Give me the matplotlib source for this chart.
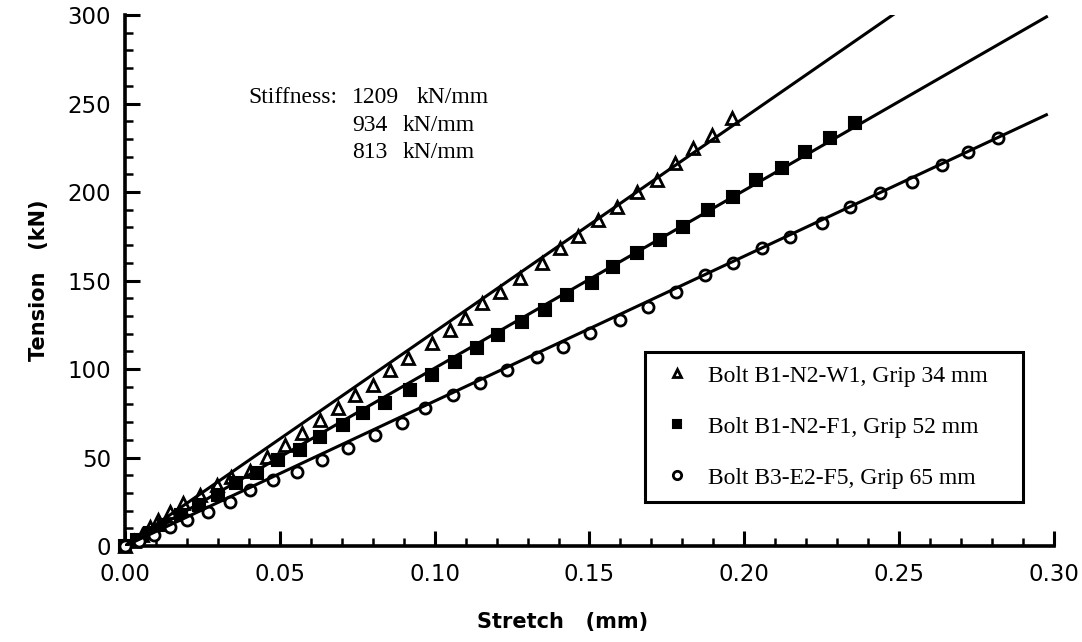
import matplotlib.pyplot as plt
from matplotlib.ticker import MultipleLocator, FormatStrFormatter

## data
##---------------------------

# Bolt B1-N2-W1, Grip 34 mm (triangles)
tri_x = [0.000, 0.003, 0.0055, 0.008, 0.0107, 0.0145, 0.0188, 0.0242, 0.0296, 0.0344,
         0.0404, 0.0458, 0.0517, 0.0571, 0.0630, 0.0689, 0.0743, 0.0802, 0.0856, 0.0915,
         0.0990, 0.1050, 0.1098, 0.1152, 0.1211, 0.1276, 0.1346, 0.1405, 0.1464, 0.1528,
         0.1588, 0.1652, 0.1717, 0.1776, 0.1835, 0.1895, 0.1960]
tri_y = [0, 3, 6, 10.9, 14.7, 19.4, 24.1, 28.8, 34.5, 39.2,
         42.5, 50.5, 57.1, 63.7, 71.2, 77.8, 85.3, 91.0, 99.4, 106.0,
         114.5, 122.0, 128.6, 137.1, 143.7, 151.2, 159.7, 168.2, 175.1, 184.2,
         191.7, 200.2, 206.8, 216.2, 224.7, 232.2, 241.6]

# Bolt B1-N2-F1, Grip 52 mm (squares)
sq_x = [0.000, 0.004, 0.008, 0.0125, 0.018, 0.024, 0.030, 0.036, 0.0425, 0.0495,
        0.0565, 0.0630, 0.0704, 0.0769, 0.0839, 0.0920, 0.0990, 0.1066, 0.1136, 0.1206,
        0.1281, 0.1356, 0.1426, 0.1507, 0.1577, 0.1652, 0.1728, 0.1803, 0.1884, 0.1964,
        0.2039, 0.2121, 0.2196, 0.2277, 0.2357]
sq_y = [0, 3.5, 7.5, 12, 17.5, 23, 29, 35.4, 41.1, 48.6,
        54.2, 61.8, 68.4, 75.0, 80.6, 88.1, 96.6, 104.1, 111.7, 119.2,
        126.7, 133.3, 141.8, 148.4, 157.8, 165.4, 172.9, 180.4, 189.8, 197.3,
        206.8, 213.4, 222.8, 230.3, 238.8]

# Bolt B3-E2-F5, Grip 65 mm (circles)
circ_x = [0.000, 0.0045, 0.0095, 0.0145, 0.0199, 0.0269, 0.0339, 0.0404, 0.0479, 0.0554,
          0.0635, 0.0721, 0.0807, 0.0894, 0.0969, 0.1058, 0.1146, 0.1233, 0.1329, 0.1416,
          0.1502, 0.1599, 0.1690, 0.1781, 0.1873, 0.1964, 0.2056, 0.2147, 0.2250, 0.2341,
          0.2438, 0.2540, 0.2637, 0.2723, 0.2820]
circ_y = [0, 3, 6.5, 10.5, 14.7, 19.4, 25.0, 31.6, 37.3, 42.0,
          48.6, 55.2, 62.7, 69.3, 77.8, 85.3, 91.9, 99.4, 107.0, 112.6,
          120.2, 127.7, 135.2, 143.7, 153.1, 159.7, 168.2, 174.8, 182.7, 191.7,
          199.3, 205.8, 215.3, 222.8, 230.3]

# fitted lines (end points)
tri_fit_x = [0.0, 0.2493]
tri_fit_y = [0.0, 301.7]
sq_fit_x = [0.0, 0.298]
sq_fit_y = [0.0, 299.4]
circ_fit_x = [0.0, 0.298]
circ_fit_y = [0.0, 244.0]

labels = ['Bolt B1-N2-W1, Grip 34 mm', 'Bolt B1-N2-F1, Grip 52 mm', 'Bolt B3-E2-F5, Grip 65 mm']
stiffness = ['1209', '934', '813']

serif = ['Liberation Serif', 'DejaVu Serif']
plt.rcParams['font.family'] = ['DejaVu Sans']

fig = plt.figure(figsize=(10.82, 6.42), dpi=100)
ax = fig.add_axes([0.1155, 0.1495, 0.8586, 0.8271])

for fx, fy in [(tri_fit_x, tri_fit_y), (sq_fit_x, sq_fit_y), (circ_fit_x, circ_fit_y)]:
    ax.plot(fx, fy, color='black', lw=2.2, zorder=4, solid_capstyle='butt')

ax.plot(tri_x, tri_y, linestyle='none', marker='^', ms=8.5, mfc='white', mec='black',
        mew=2.0, label=labels[0], zorder=3, clip_on=False)
ax.plot(sq_x, sq_y, linestyle='none', marker='s', ms=8, mfc='black', mec='black',
        mew=1.5, label=labels[1], zorder=3, clip_on=False)
ax.plot(circ_x, circ_y, linestyle='none', marker='o', ms=8, mfc='white', mec='black',
        mew=2.0, label=labels[2], zorder=3, clip_on=False)

ax.set_xlim(0, 0.30)
ax.set_ylim(0, 300)
ax.xaxis.set_major_locator(MultipleLocator(0.05))
ax.xaxis.set_minor_locator(MultipleLocator(0.01))
ax.xaxis.set_major_formatter(FormatStrFormatter('%.2f'))
ax.yaxis.set_major_locator(MultipleLocator(50))
ax.yaxis.set_minor_locator(MultipleLocator(10))

for s in ['top', 'right']:
    ax.spines[s].set_visible(False)
for s in ['left', 'bottom']:
    ax.spines[s].set_linewidth(2.6)

ax.tick_params(which='major', direction='in', length=11, width=2.2, labelsize=16.5)
ax.tick_params(which='minor', direction='in', length=6, width=1.8)
ax.tick_params(axis='x', which='major', pad=12)
ax.tick_params(axis='y', which='major', pad=10)

ax.set_xlabel('Stretch   (mm)', fontsize=15, fontweight='bold')
ax.set_ylabel('Tension   (kN)', fontsize=15, fontweight='bold')
ax.xaxis.set_label_coords(0.471, -0.124)
ax.yaxis.set_label_coords(-0.082, 0.5)

# stiffness annotation
row_y = [0.8456, 0.7928, 0.742]
ax.text(0.1324, row_y[0], 'Stiffness:', transform=ax.transAxes, family=serif,
        fontsize=17, va='center', ha='left')
for i, st in enumerate(stiffness):
    ax.text(0.2443, row_y[i], st, transform=ax.transAxes, family=serif,
            fontsize=17, va='center', ha='left')
    ax.text(0.3143 if i == 0 else 0.2992, row_y[i], 'kN/mm', transform=ax.transAxes,
            family=serif, fontsize=17, va='center', ha='left')

leg = ax.legend(loc='upper left', bbox_to_anchor=(0.5597, 0.0734, 0.4069, 0.2919),
                mode='expand', borderaxespad=0, numpoints=1, handlelength=1.6,
                handletextpad=0.5, borderpad=0.55, labelspacing=1.25, markerscale=0.75,
                fancybox=False, framealpha=1, edgecolor='black',
                prop={'family': serif, 'size': 17})
leg.get_frame().set_linewidth(2.2)

plt.savefig('out.png', dpi=100)
